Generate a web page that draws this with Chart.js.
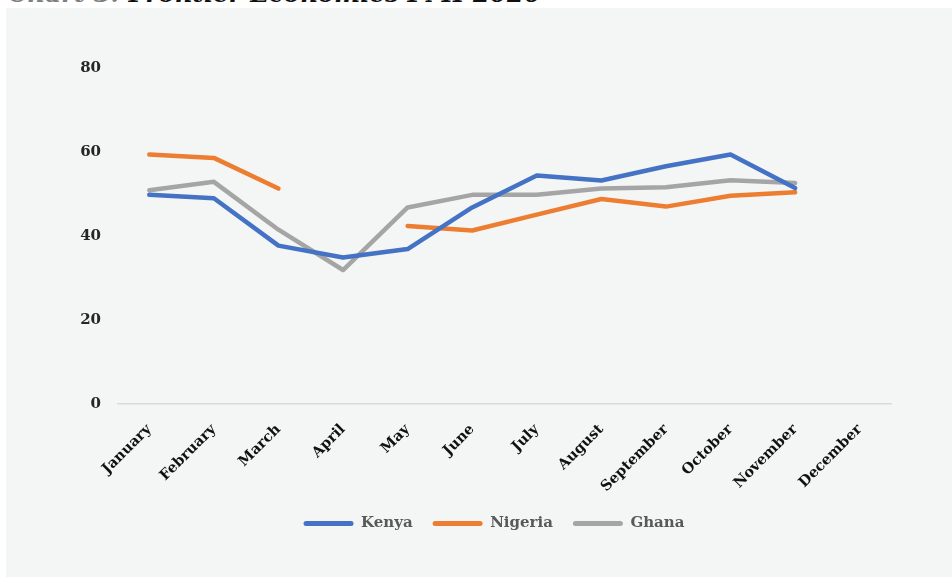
<!DOCTYPE html>
<html>
<head>
<meta charset="utf-8">
<script src="https://cdn.jsdelivr.net/npm/chart.js@4.4.1/dist/chart.umd.min.js"></script>
<style>
  body { margin: 0; background: #ffffff; width: 952px; height: 577px; overflow: hidden; position: relative; }
  #title {
    position: absolute; left: 8px; top: -18px; margin: 0;
    font: italic bold 24.5px "DejaVu Serif", serif; line-height: 1; white-space: nowrap; color: #111;
  }
  #title span { color: #7f7f7f; }
  #panel { position: absolute; left: 6px; top: 8px; width: 946px; height: 569px; background: #f4f6f5; }
</style>
</head>
<body>
<div id="title"><span>Chart 3:</span> Frontier Economies PMI 2020</div>
<div id="panel"><canvas id="pmiChart" width="946" height="569"></canvas></div>
<script>
const months = ['January', 'February', 'March', 'April', 'May', 'June', 'July',
  'August', 'September', 'October', 'November', 'December'];
const kenya   = [49.8, 49.0, 37.7, 34.9, 36.9, 46.8, 54.4, 53.2, 56.6, 59.4, 51.4, null];
const nigeria = [59.4, 58.6, 51.3, null, 42.4, 41.3, 45.1, 48.8, 47.0, 49.6, 50.4, null];
const ghana   = [50.9, 52.9, 41.5, 31.9, 46.8, 49.8, 49.8, 51.3, 51.6, 53.3, 52.6, null];
const yTicks = [0, 20, 40, 60, 80];

const serif = "'DejaVu Serif', serif";

function series(label, data, color) {
  return {
    label: label,
    data: data,
    borderColor: color,
    backgroundColor: color,
    borderWidth: 4.5,
    borderCapStyle: 'round',
    borderJoinStyle: 'round',
    pointRadius: 0,
    tension: 0,
    spanGaps: false
  };
}

const ctx = document.getElementById('pmiChart').getContext('2d');
const pmiChart = new Chart(ctx, {
  type: 'line',
  data: {
    labels: months,
    datasets: [
      series('Kenya', kenya, '#4472c4'),
      series('Nigeria', nigeria, '#ed7d31'),
      series('Ghana', ghana, '#a5a5a5')
    ]
  },
  options: {
    responsive: false,
    animation: false,
    layout: { padding: { left: 30, top: 60, right: 0, bottom: 36 } },
    scales: {
      x: {
        offset: true,
        grid: { display: false },
        border: { display: false },
        ticks: {
          minRotation: 45,
          maxRotation: 45,
          padding: 9,
          color: '#111111',
          font: { family: serif, size: 14.5, weight: 'bold' }
        },
        afterFit: (scale) => { scale.height = 92; }
      },
      y: {
        min: 0,
        max: 80,
        afterBuildTicks: (scale) => { scale.ticks = yTicks.map(v => ({ value: v })); },
        grid: {
          drawTicks: false,
          lineWidth: 1.5,
          color: (c) => (c.tick && c.tick.value === 0 ? '#d9d9d9' : 'rgba(0,0,0,0)')
        },
        border: { display: false },
        ticks: {
          padding: 16,
          color: '#262626',
          font: { family: serif, size: 15, weight: 'bold' }
        },
        afterFit: (scale) => { scale.width = 81; }
      },
      // empty right-hand gutter, keeps the legend centred where it sits
      gutter: {
        position: 'right',
        grid: { display: false },
        border: { display: false },
        ticks: { display: false },
        afterFit: (scale) => { scale.width = 60; }
      }
    },
    plugins: {
      legend: {
        position: 'bottom',
        labels: {
          boxWidth: 50,
          boxHeight: 5,
          useBorderRadius: true,
          borderRadius: 2.5,
          padding: 20,
          color: '#595959',
          font: { family: serif, size: 15, weight: 'bold' },
          generateLabels: (chart) =>
            Chart.defaults.plugins.legend.labels.generateLabels(chart)
              .map(item => Object.assign(item, { lineWidth: 0 }))
        }
      },
      tooltip: { enabled: false }
    }
  }
});
</script>
</body>
</html>
